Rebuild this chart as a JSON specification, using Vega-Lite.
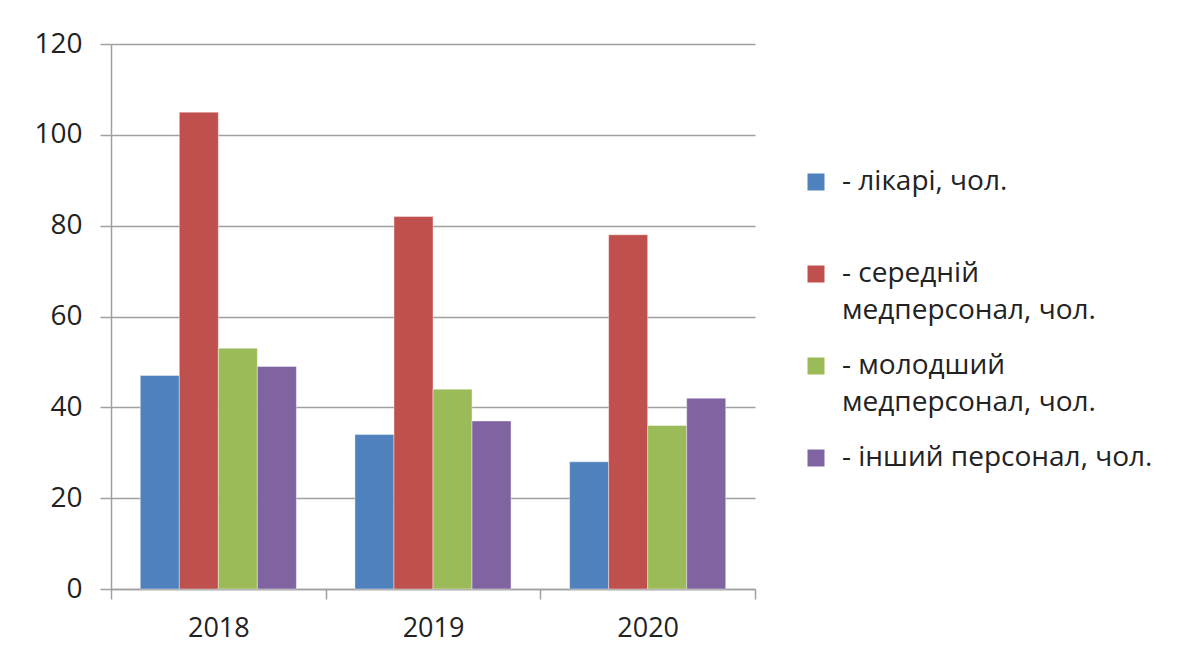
{
  "$schema": "https://vega.github.io/schema/vega-lite/v6.json",
  "width": 644,
  "height": 545,
  "autosize": {"type": "none"},
  "padding": {"left": 111, "top": 44, "right": 435, "bottom": 72},
  "background": "white",
  "config": {
    "view": {"stroke": null},
    "font": "Open Sans",
    "style": {"guide-label": {"lineHeight": 37}}
  },
  "data": {
    "values": [
      {"year": "2018", "series": "- лікарі, чол.|", "value": 47},
      {"year": "2018", "series": "- середній|медперсонал, чол.", "value": 105},
      {"year": "2018", "series": "- молодший|медперсонал, чол.", "value": 53},
      {"year": "2018", "series": "- інший персонал, чол.", "value": 49},
      {"year": "2019", "series": "- лікарі, чол.|", "value": 34},
      {"year": "2019", "series": "- середній|медперсонал, чол.", "value": 82},
      {"year": "2019", "series": "- молодший|медперсонал, чол.", "value": 44},
      {"year": "2019", "series": "- інший персонал, чол.", "value": 37},
      {"year": "2020", "series": "- лікарі, чол.|", "value": 28},
      {"year": "2020", "series": "- середній|медперсонал, чол.", "value": 78},
      {"year": "2020", "series": "- молодший|медперсонал, чол.", "value": 36},
      {"year": "2020", "series": "- інший персонал, чол.", "value": 42}
    ]
  },
  "mark": {"type": "bar", "stroke": "#ffffff", "strokeOpacity": 0.4, "strokeWidth": 1},
  "encoding": {
    "x": {
      "field": "year",
      "type": "nominal",
      "title": null,
      "scale": {"paddingInner": 0, "paddingOuter": 0},
      "axis": {
        "labelAngle": 0,
        "labelFontSize": 27,
        "labelColor": "#222222",
        "labelPadding": 16,
        "tickBand": "extent",
        "tickSize": 10,
        "tickColor": "#a0a0a0",
        "tickWidth": 1.5,
        "domainColor": "#a0a0a0",
        "domainWidth": 1.5,
        "grid": false
      }
    },
    "xOffset": {
      "field": "series",
      "type": "nominal",
      "sort": ["- лікарі, чол.|", "- середній|медперсонал, чол.", "- молодший|медперсонал, чол.", "- інший персонал, чол."],
      "scale": {"paddingInner": 0, "paddingOuter": 0.75}
    },
    "y": {
      "field": "value",
      "type": "quantitative",
      "title": null,
      "scale": {"domain": [0, 120], "nice": false},
      "axis": {
        "values": [0, 20, 40, 60, 80, 100, 120],
        "labelFontSize": 28,
        "labelColor": "#222222",
        "labelPadding": 18,
        "tickSize": 11,
        "tickColor": "#a0a0a0",
        "tickWidth": 1.5,
        "domainColor": "#a0a0a0",
        "domainWidth": 1.5,
        "gridColor": "#a0a0a0",
        "gridWidth": 1.5
      }
    },
    "color": {
      "field": "series",
      "type": "nominal",
      "title": null,
      "scale": {
        "domain": ["- лікарі, чол.|", "- середній|медперсонал, чол.", "- молодший|медперсонал, чол.", "- інший персонал, чол."],
        "range": ["#4F81BD", "#C0504D", "#9BBB59", "#8064A2"]
      },
      "legend": {
        "orient": "none",
        "legendX": 691,
        "legendY": 124,
        "symbolType": "square",
        "symbolSize": 289,
        "symbolStrokeWidth": 0,
        "symbolOpacity": 1,
        "labelFontSize": 28,
        "labelColor": "#222222",
        "labelOffset": 12,
        "labelLimit": 0,
        "labelBaseline": "middle",
        "rowPadding": 27,
        "labelExpr": "split(datum.label, '|')"
      }
    }
  }
}
